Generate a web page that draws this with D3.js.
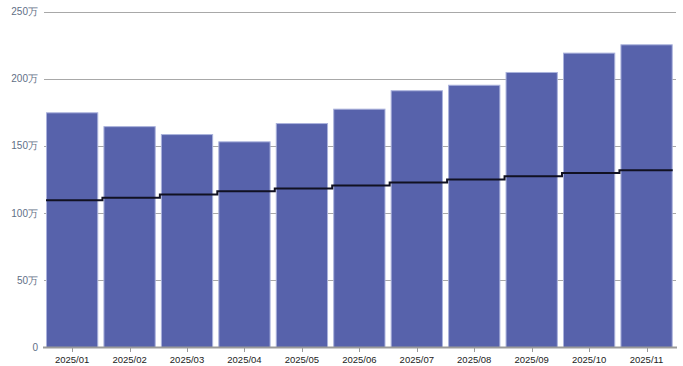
<!DOCTYPE html>
<html><head><meta charset="utf-8">
<script src="https://cdn.jsdelivr.net/npm/d3@7"></script>
<style>html,body{margin:0;padding:0;background:#fff;}svg{display:block;}</style>
</head><body>
<svg id="chart" width="683" height="366"></svg>
<script>
const categories = ["2025/01","2025/02","2025/03","2025/04","2025/05","2025/06","2025/07","2025/08","2025/09","2025/10","2025/11"];
const barValues = [175, 164.7, 158.8, 153.4, 167, 177.7, 191.4, 195.5, 205, 219.4, 225.6]; // 万
const lineValues = [109.5, 111.5, 113.9, 116.3, 118.3, 120.5, 122.7, 125, 127.4, 129.8, 131.8]; // 万
const yTicks = [0, 50, 100, 150, 200, 250];
const yTickLabels = ["0", "50万", "100万", "150万", "200万", "250万"];

const svg = d3.select("#chart");
const gridLeft = 44, gridRight = 676;
const x = d3.scaleBand().domain(categories).range([43.4, 675.3]).paddingInner(0.09).paddingOuter(0.045);
const y = d3.scaleLinear().domain([0, 250]).range([347.5, 11.5]);

// gridlines
svg.append("g").selectAll("line").data(yTicks.slice(1)).join("line")
  .attr("x1", gridLeft).attr("x2", gridRight)
  .attr("y1", d => Math.round(y(d)) + 0.5).attr("y2", d => Math.round(y(d)) + 0.5)
  .attr("stroke", "#a8a8a8").attr("stroke-width", 1);

// y labels
svg.append("g").selectAll("text").data(yTicks).join("text")
  .attr("x", 38).attr("y", d => y(d)).attr("dy", "0.35em")
  .attr("text-anchor", "end")
  .attr("font-family", "'Liberation Sans', Arial, sans-serif").attr("font-size", 10)
  .attr("fill", "#5f6f86")
  .text((d, i) => yTickLabels[i]);

// bars
svg.append("g").selectAll("rect").data(categories).join("rect")
  .attr("x", d => x(d) + 0.5)
  .attr("y", (d, i) => y(barValues[i]) + 0.5)
  .attr("width", x.bandwidth() - 1)
  .attr("height", (d, i) => y(0) - y(barValues[i]) - 0.5)
  .attr("fill", "#5762ab")
  .attr("stroke", "#aab2dc").attr("stroke-width", 1);

// x axis line
svg.append("line").attr("x1", 43).attr("x2", 677).attr("y1", 347.5).attr("y2", 347.5)
  .attr("stroke", "#9a9a9a").attr("stroke-width", 2);

// ticks
svg.append("g").selectAll("line").data(categories).join("line")
  .attr("x1", d => Math.round(x(d) + x.bandwidth() / 2) + 0.5)
  .attr("x2", d => Math.round(x(d) + x.bandwidth() / 2) + 0.5)
  .attr("y1", 348).attr("y2", 352)
  .attr("stroke", "#9a9a9a").attr("stroke-width", 1);

// x labels
svg.append("g").selectAll("text").data(categories).join("text")
  .attr("x", d => x(d) + x.bandwidth() / 2).attr("y", 363)
  .attr("text-anchor", "middle")
  .attr("font-family", "'Liberation Sans', Arial, sans-serif").attr("font-size", 9.5)
  .attr("fill", "#222")
  .text(d => d);

// step line
const pts = categories.map((c, i) => [x(c) - (i === 0 ? 0 : 1), lineValues[i]]);
pts.push([x(categories[categories.length - 1]) + x.bandwidth(), lineValues[lineValues.length - 1]]);
const line = d3.line().x(d => d[0]).y(d => y(d[1])).curve(d3.curveStepAfter);
svg.append("path").datum(pts).attr("d", line)
  .attr("fill", "none").attr("stroke", "#111122").attr("stroke-width", 2);
</script>
</body></html>
